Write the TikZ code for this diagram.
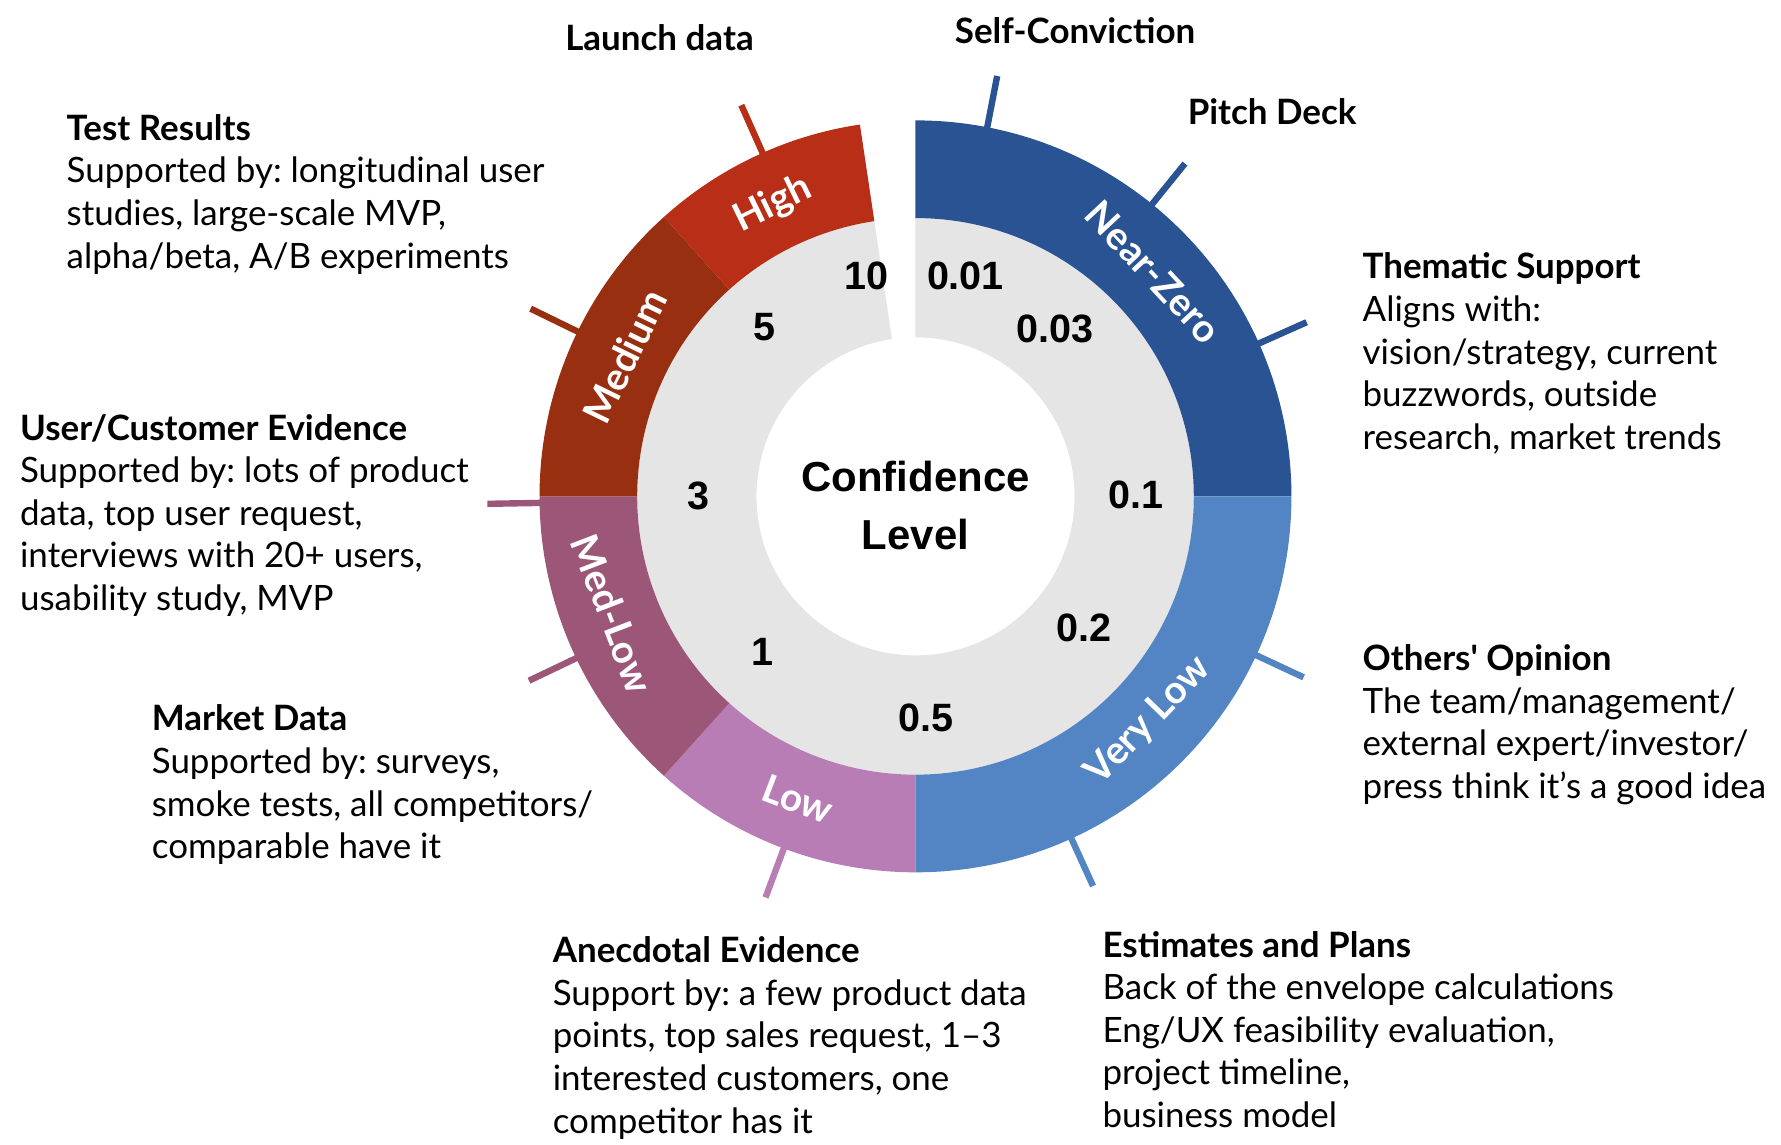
\documentclass[tikz,border=0pt]{standalone}
\usepackage{fontspec}
\setmainfont{Lato}[Ligatures=TeXOff]
\newfontfamily\numfont{Liberation Sans}
\usetikzlibrary{positioning}
\frenchspacing

\definecolor{high}{HTML}{B82E17}
\definecolor{medium}{HTML}{972F10}
\definecolor{medlow}{HTML}{9B5678}
\definecolor{low}{HTML}{B97DB6}
\definecolor{verylow}{HTML}{5384C4}
\definecolor{nearzero}{HTML}{2A5393}
\definecolor{ringgray}{HTML}{E5E5E5}

\tikzset{
  txt/.style={align=left, anchor=north west, inner sep=0pt, font=\fontsize{8.75}{10.67}\selectfont},
  num/.style={inner sep=0pt, font=\numfont\bfseries\fontsize{9.9}{11}\selectfont},
  seglbl/.style={text=white, inner sep=0pt, font=\bfseries\fontsize{9.7}{12}\selectfont},
  tick/.style={line width=1.6pt}
}

\begin{document}
\begin{tikzpicture}
\useasboundingbox (-8.06,-5.71) rectangle (7.62,4.37);

\fill[ringgray] (98.5:2.45) arc[start angle=98.5, end angle=450, radius=2.45] -- (450:1.40) arc[start angle=450, end angle=98.5, radius=1.40] -- cycle;
\foreach \a/\b/\c in {0/90/nearzero, -90/0/verylow, 228/270/low, 180/228/medlow, 132/180/medium, 98.5/132/high}
  \fill[\c] (\a:2.45) arc[start angle=\a, end angle=\b, radius=2.45] -- (\b:3.31) arc[start angle=\b, end angle=\a, radius=3.31] -- cycle;

\foreach \a/\c in {114/high, 79/nearzero, 51/nearzero, 24/nearzero, -25/verylow, -65.5/verylow, 249.5/low, 205.5/medlow, 181/medlow, 154/medium}
  \draw[tick, \c] (\a:3.28) -- (\a:3.77);

\node[seglbl, rotate=26] (lhigh) at (116:2.86) {High};
\node[seglbl, rotate=64] (lmedium) at (154.3:2.84) {Medium};
\node[seglbl, rotate=-69] (lmedlow) at (201.2:2.86) {Med-Low};
\node[seglbl, rotate=-21] (llow) at (248.8:2.86) {Low};
\node[seglbl, rotate=46] (lverylow) at (-43.9:2.85) {Very Low};
\node[seglbl, rotate=-47] (lnearzero) at (43.3:2.88) {Near-Zero};

\node[num] (n10) at (-0.43,1.94) {10};
\node[num] (n001) at (0.44,1.94) {0.01};
\node[num] (n003) at (1.23,1.47) {0.03};
\node[num] (n5) at (-1.33,1.49) {5};
\node[num] (n3) at (-1.91,0) {3};
\node[num] (n01) at (1.94,0.01) {0.1};
\node[num] (n1) at (-1.35,-1.37) {1};
\node[num] (n02) at (1.48,-1.16) {0.2};
\node[num] (n05) at (0.09,-1.95) {0.5};

\node[align=center, font=\numfont\bfseries\fontsize{10.5}{14.5}\selectfont] (conf) at (0,-0.08) {Confidence\\Level};

\node[txt] (launch) at (-3.09,4.16) {\textbf{Launch data}};
\node[txt] (selfconv) at (0.34,4.22) {\textbf{Self-Conviction}};
\node[txt] (pitch) at (2.39,3.51) {\textbf{Pitch Deck}};
\node[txt] (testres) at (-7.48,3.37) {\textbf{Test Results}\\Supported by: longitudinal user\\studies, large-scale MVP,\\alpha/beta, A/B experiments};
\node[txt] (thematic) at (3.93,2.15) {\textbf{Thematic Support}\\Aligns with:\\vision/strategy, current\\buzzwords, outside\\research, market trends};
\node[txt] (usercust) at (-7.89,0.73) {\textbf{User/Customer Evidence}\\Supported by: lots of product\\data, top user request,\\interviews with 20+ users,\\usability study, MVP};
\node[txt] (others) at (3.93,-1.30) {\textbf{Others' Opinion}\\The team/management/\\external expert/investor/\\press think it’s a good idea};
\node[txt] (market) at (-6.73,-1.83) {\textbf{Market Data}\\Supported by: surveys,\\smoke tests, all competitors/\\comparable have it};
\node[txt] (anecdotal) at (-3.20,-3.87) {\textbf{Anecdotal Evidence}\\Support by: a few product data\\points, top sales request, 1–3\\interested customers, one\\competitor has it};
\node[txt] (estimates) at (1.64,-3.82) {\textbf{Estimates and Plans}\\Back of the envelope calculations\\Eng/UX feasibility evaluation,\\project timeline,\\business model};
\end{tikzpicture}
\end{document}
